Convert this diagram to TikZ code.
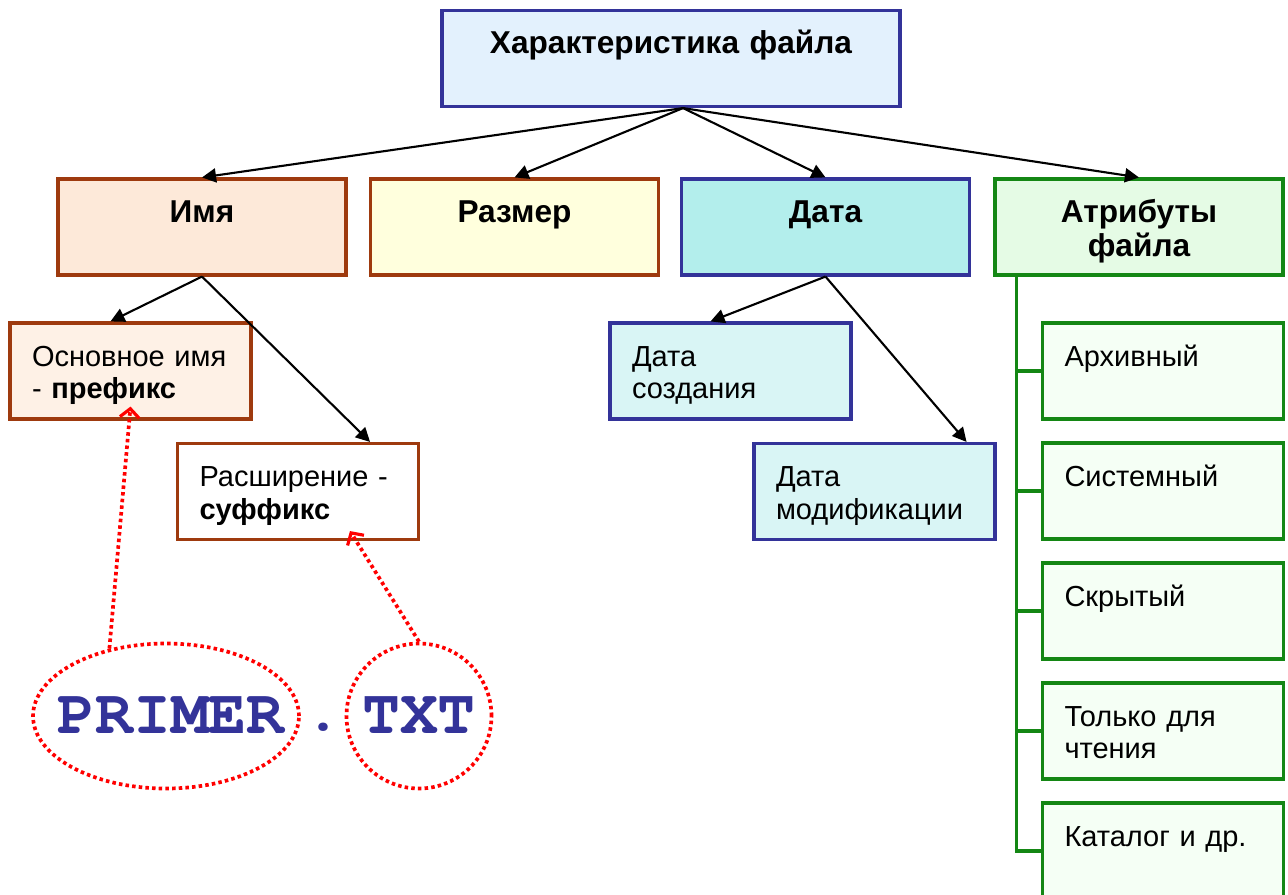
\documentclass[tikz,border=0pt]{standalone}
\usepackage{fontspec}
\setmainfont{Liberation Sans}
\usetikzlibrary{arrows.meta,shapes.geometric}

\newcommand{\fncour}{\fontencoding{T1}\fontfamily{pcr}\fontseries{b}\fontsize{36}{36}\selectfont}

\definecolor{brn}{RGB}{158,58,14}
\definecolor{blu}{RGB}{51,51,153}
\definecolor{grn}{RGB}{20,135,20}
\definecolor{fillTop}{RGB}{227,241,253}
\definecolor{fillName}{RGB}{253,233,217}
\definecolor{fillSize}{RGB}{255,255,221}
\definecolor{fillDate}{RGB}{179,238,236}
\definecolor{fillAttr}{RGB}{229,251,229}
\definecolor{fillBase}{RGB}{254,241,230}
\definecolor{fillDsub}{RGB}{217,245,245}
\definecolor{fillAsub}{RGB}{245,255,245}

\begin{document}
\begin{tikzpicture}[x=0.02cm,y=-0.02cm,
    box/.style={draw,line width=1.8pt,inner ysep=0pt,text height=0.86cm,text depth=1.06cm},
    head/.style={box,inner xsep=0.2cm,text width=5.36cm,align=center,
      font=\fontsize{18}{19.5}\selectfont\bfseries},
    sub/.style={box,inner xsep=0.44cm,text width=3.94cm,align=left,
      font=\fontsize{16.5}{18.7}\selectfont},
    arr/.style={line width=1.2pt,-{Triangle[length=8pt,width=8pt]}},
    ptr/.style={red,line width=2.1pt,dash pattern=on 2pt off 1.8pt,
      -{Straight Barb[length=5pt,width=11pt,line width=1.8pt]}},
    ring/.style={ellipse,draw=red,line width=2.1pt,dash pattern=on 2pt off 1.8pt,
      inner sep=0pt,text=blu,font=\fncour}]

  \useasboundingbox (0,0) rectangle (1288,894);

  % top and first row
  \node[head,text width=8.76cm,draw=blu,fill=fillTop] (title) at (671,58.5) {Характеристика файла};
  \node[head,draw=brn,fill=fillName] (imya)   at (202,227)   {Имя};
  \node[head,draw=brn,fill=fillSize] (razmer) at (514.5,227) {Размер};
  \node[head,draw=blu,fill=fillDate] (data)   at (825.5,227) {Дата};
  \node[head,draw=grn,fill=fillAttr] (atr)    at (1139,227)  {Атрибуты\\файла};

  % second level
  \node[sub,draw=brn,fill=fillBase] (osn)   at (130.5,371)   {Основное имя\\- \textbf{префикс}};
  \node[sub,draw=brn,fill=white]    (rassh) at (298,491.5)   {Расширение -\\\textbf{суффикс}};
  \node[sub,draw=blu,fill=fillDsub] (sozd)  at (730.5,371)   {Дата\\создания};
  \node[sub,draw=blu,fill=fillDsub] (modif) at (874.5,491.5) {Дата\\модификации};

  % attributes
  \begin{scope}[every node/.style={sub,draw=grn,fill=fillAsub}]
    \node (a1) at (1163,371) {Архивный};
    \node (a2) at (1163,491) {Системный};
    \node (a3) at (1163,611) {Скрытый};
    \node (a4) at (1163,731) {Только для\\чтения};
    \node (a5) at (1163,851) {Каталог и др.};
  \end{scope}
  \foreach \i in {1,...,5}
    \draw[grn,line width=1.8pt] ([xshift=0.46cm]atr.south west) |- (a\i.west);

  % arrows
  \coordinate (fork) at ([xshift=0.24cm]title.south);
  \draw[arr] (fork) -- (imya.north);
  \draw[arr] (fork) -- (razmer.north);
  \draw[arr] (fork) -- (data.north);
  \draw[arr] (fork) -- (atr.north);
  \draw[arr] (imya.south) -- ([xshift=-0.4cm]osn.north);
  \draw[arr] (imya.south) -- ([xshift=-1cm]rassh.north east);
  \draw[arr] (data.south) -- ([xshift=-0.4cm]sozd.north);
  \draw[arr] (data.south) -- ([xshift=-0.6cm]modif.north east);

  % file name
  \node[ring,minimum width=5.32cm,minimum height=2.9cm] (primer) at (166,716)
    {\makebox[0pt]{\hspace*{0.2cm}PRIMER}};
  \node[ring,minimum width=2.9cm,minimum height=2.9cm] (txt) at (419,716)
    {\makebox[0pt]{TXT}};
  \node[anchor=base,text=blu,font=\fncour] (dot) at (323,730) {.};
  \draw[ptr] (primer.130) -- ([yshift=0.28cm]osn.south);
  \draw[ptr] (txt.north) -- ([xshift=1.04cm,yshift=0.2cm]rassh.south);

\end{tikzpicture}
\end{document}
